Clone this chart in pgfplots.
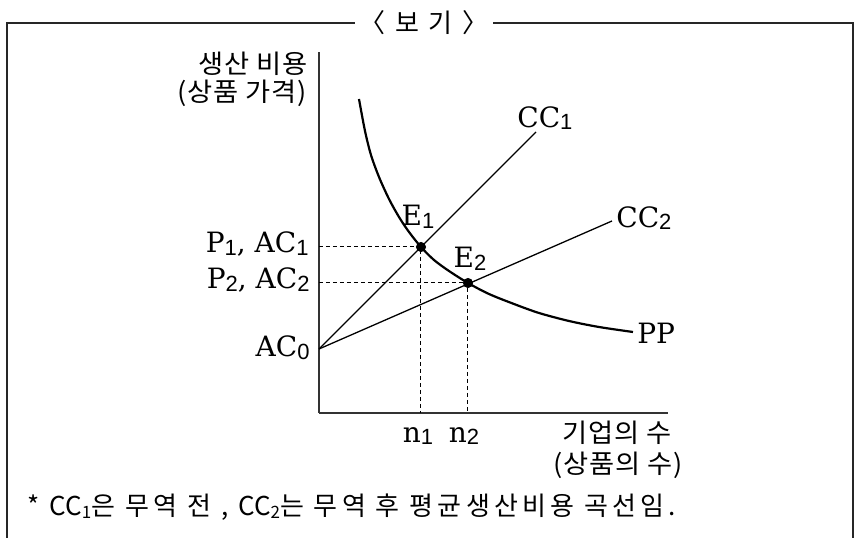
\documentclass[border=0pt]{standalone}
\usepackage{fontspec}
\usepackage{pgfplots}
\pgfplotsset{compat=1.18}
\setmainfont{DejaVu Serif}
\newfontfamily\kr[FakeStretch=1.05, LetterSpace=3]{Noto Sans CJK KR}
\newfontfamily\krw[LetterSpace=16]{Noto Sans CJK KR}
\newfontfamily\krn{Noto Sans CJK KR}
\newfontfamily\subf{Liberation Sans}
\newcommand\lab{\fontsize{14bp}{16bp}\selectfont}
\newcommand\klab{\kr\fontsize{13bp}{15bp}\selectfont}
\newcommand\sub[1]{\raisebox{-1.3bp}{\subf\fontsize{11bp}{12bp}\selectfont #1}}
\newcommand\fcc[1]{{\krn CC\raisebox{-1.6bp}{\fontsize{8.5bp}{10bp}\selectfont #1}}}

\begin{document}
\begin{tikzpicture}
\begin{axis}[
  x=0.5bp, y=0.5bp,
  xmin=0, xmax=349, ymin=0, ymax=361,
  axis x line=bottom, axis y line=left,
  axis line style={-, line width=1bp, black!80},
  xtick=\empty, ytick=\empty,
  clip=false,
]
% page size: 854 x 535 px, axis origin at px (319,413)
\path (axis cs:-319,-122) rectangle (axis cs:535,413);

% frame with title
\draw[line width=0.9bp, black!85] (axis cs:-312,-125) -- (axis cs:-312,390) -- (axis cs:534,390) -- (axis cs:534,-125);
\node[fill=white, inner sep=2bp, font=\krw\fontsize{13bp}{14bp}\selectfont] at (axis cs:105,390) {〈 보 기 〉};

% guide lines
\addplot[black, line width=0.5bp, dash pattern=on 2bp off 1.5bp] coordinates {(0,166) (102,166) (102,0)};
\addplot[black, line width=0.5bp, dash pattern=on 2bp off 1.5bp] coordinates {(0,130) (149,130) (149,0)};

% CC1 and CC2
\addplot[black, line width=0.65bp] coordinates {(0,64) (217,281)};
\addplot[black, line width=0.65bp] coordinates {(0,64) (293,192)};

% PP curve
\addplot[black, line width=1.1bp, smooth] coordinates {
(40,314) (46,282) (52,258) (60,236) (70,214) (80,196) (90,181) (102,166)
(115,153) (130,142) (149,130) (170,119) (195,109) (220,100) (250,92) (280,86) (314,81)
};

% equilibria
\addplot[only marks, mark=*, mark size=2.3bp, black] coordinates {(102,166) (149,130)};

% labels
\node[anchor=east, inner sep=0, font=\klab] at (axis cs:-11,349) {생산 비용};
\node[anchor=east, inner sep=0, font=\klab] at (axis cs:-12,320) {(상품 가격)};
\node[anchor=east, inner sep=0, font=\lab] at (axis cs:-10,169) {P\sub{1}, AC\sub{1}};
\node[anchor=east, inner sep=0, font=\lab] at (axis cs:-9,133) {P\sub{2}, AC\sub{2}};
\node[anchor=east, inner sep=0, font=\lab] at (axis cs:-9,65) {AC\sub{0}};
\node[inner sep=0, font=\lab] at (axis cs:99,196) {E\sub{1}};
\node[inner sep=0, font=\lab] at (axis cs:151,154) {E\sub{2}};
\node[anchor=west, inner sep=0, font=\lab] at (axis cs:198,295) {CC\sub{1}};
\node[anchor=west, inner sep=0, font=\lab] at (axis cs:297,195) {CC\sub{2}};
\node[anchor=west, inner sep=0, font=\lab] at (axis cs:318,80) {PP};
\node[inner sep=0, font=\lab] at (axis cs:99,-23) {n\sub{1}};
\node[inner sep=0, font=\lab] at (axis cs:145,-23) {n\sub{2}};
\node[inner sep=0, font=\klab] at (axis cs:298,-20) {기업의 수};
\node[inner sep=0, font=\klab] at (axis cs:299,-52) {(상품의 수)};

% footnote
\node[anchor=west, inner sep=0, font=\krw\fontsize{13bp}{15bp}\selectfont] at (axis cs:-292,-94)
  {* \fcc{1}은 무역 전 , \fcc{2}는 무역 후 평균생산비용 곡선임.};
\end{axis}
\end{tikzpicture}
\end{document}
